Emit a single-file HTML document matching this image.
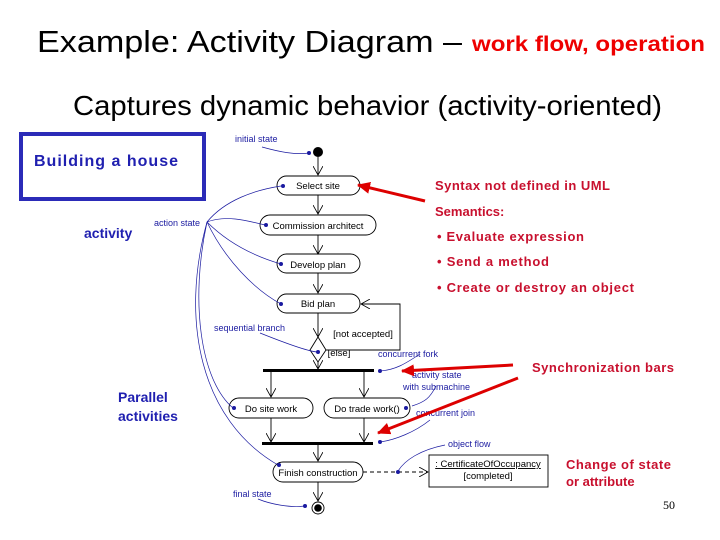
<!DOCTYPE html>
<html><head><meta charset="utf-8"><style>
html,body{margin:0;padding:0;background:#fff;}
svg{display:block;font-family:"Liberation Sans",Arial,sans-serif;}
</style></head><body>
<svg width="720" height="540" viewBox="0 0 720 540" xmlns="http://www.w3.org/2000/svg">
<defs>
<marker id="oa" markerWidth="10" markerHeight="10" refX="9" refY="5" orient="auto" markerUnits="userSpaceOnUse"><path d="M0,0 L9,5 L0,10" fill="none" stroke="#000" stroke-width="0.8"/></marker>
<marker id="ra" markerWidth="14" markerHeight="12" refX="12" refY="6" orient="auto" markerUnits="userSpaceOnUse"><path d="M0,0 L13,6 L0,12 z" fill="#d00"/></marker>
</defs>
<text x="37" y="52" font-size="31" fill="#000" textLength="425" lengthAdjust="spacingAndGlyphs">Example: Activity Diagram –</text>
<text x="472" y="51" font-size="21" font-weight="bold" fill="#e00" textLength="233" lengthAdjust="spacingAndGlyphs">work flow, operation</text>
<text x="73" y="115" font-size="28" fill="#000" textLength="589" lengthAdjust="spacingAndGlyphs">Captures dynamic behavior (activity-oriented)</text>

<rect x="21" y="134" width="183" height="65" fill="none" stroke="#2b2bb8" stroke-width="4"/>
<text x="34" y="166" font-size="16" font-weight="bold" fill="#2020b0" textLength="144">Building a house</text>
<text x="84" y="238" font-size="14" font-weight="bold" fill="#2020b0">activity</text>
<text x="118" y="402" font-size="14" font-weight="bold" fill="#2020b0">Parallel</text>
<text x="118" y="421" font-size="14" font-weight="bold" fill="#2020b0">activities</text>

<g font-size="13" font-weight="bold" fill="#c8102e">
<text x="435" y="190" textLength="175">Syntax not defined in UML</text>
<text x="435" y="216">Semantics:</text>
<text x="437" y="241" textLength="147">•  Evaluate expression</text>
<text x="437" y="266" textLength="112">•  Send a method</text>
<text x="437" y="292" textLength="197">•  Create or destroy an  object</text>
<text x="532" y="372" textLength="142">Synchronization bars</text>
<text x="566" y="469" textLength="105">Change of state</text>
<text x="566" y="486">or attribute</text>
</g>
<text x="663" y="509" font-size="12" font-family="Liberation Serif,serif">50</text>

<g stroke="#000" stroke-width="0.9" fill="none">
<line x1="318" y1="157" x2="318" y2="175" marker-end="url(#oa)"/>
<line x1="318" y1="195" x2="318" y2="214" marker-end="url(#oa)"/>
<line x1="318" y1="235" x2="318" y2="254" marker-end="url(#oa)"/>
<line x1="318" y1="273" x2="318" y2="293" marker-end="url(#oa)"/>
<line x1="318" y1="313" x2="318" y2="337" marker-end="url(#oa)"/>
<line x1="318" y1="362" x2="318" y2="369" marker-end="url(#oa)"/>
<line x1="271" y1="371" x2="271" y2="397" marker-end="url(#oa)"/>
<line x1="364" y1="371" x2="364" y2="397" marker-end="url(#oa)"/>
<line x1="271" y1="418" x2="271" y2="442" marker-end="url(#oa)"/>
<line x1="364" y1="418" x2="364" y2="442" marker-end="url(#oa)"/>
<line x1="318" y1="444" x2="318" y2="461" marker-end="url(#oa)"/>
<line x1="318" y1="482" x2="318" y2="501" marker-end="url(#oa)"/>
<polyline points="326,350 400,350 400,304 361,304" marker-end="url(#oa)"/>
<line x1="363" y1="472" x2="428" y2="472" stroke-dasharray="4,3" marker-end="url(#oa)"/>
<rect x="277" y="176" width="83" height="19" rx="9.5"/>
<rect x="260" y="215" width="116" height="20" rx="10"/>
<rect x="277" y="254" width="83" height="19" rx="9.5"/>
<rect x="277" y="294" width="83" height="19" rx="9.5"/>
<polygon points="318,337 326,350 318,362 310,350"/>
<rect x="229" y="398" width="84" height="20" rx="10"/>
<rect x="324" y="398" width="86" height="20" rx="10"/>
<rect x="273" y="462" width="90" height="20" rx="10"/>
<rect x="429" y="455" width="119" height="32"/>
<circle cx="318" cy="508" r="6"/>
</g>
<circle cx="318" cy="152" r="5" fill="#000"/>
<circle cx="318" cy="508" r="3.8" fill="#000"/>
<rect x="263" y="369" width="111" height="3" fill="#000"/>
<rect x="262" y="442" width="111" height="3" fill="#000"/>
<g font-size="9.5" fill="#000" text-anchor="middle">
<text x="318" y="189">Select site</text>
<text x="318" y="229">Commission architect</text>
<text x="318" y="268">Develop plan</text>
<text x="318" y="307">Bid plan</text>
<text x="271" y="412">Do site work</text>
<text x="367" y="412">Do trade work()</text>
<text x="318" y="476">Finish construction</text>
<text x="488" y="467" text-decoration="underline">: CertificateOfOccupancy</text>
<text x="488" y="479">[completed]</text>
<text x="363" y="337">[not accepted]</text>
<text x="339" y="356">[else]</text>
</g>
<g font-size="9" fill="#1a1aa0">
<text x="235" y="142">initial state</text>
<text x="154" y="226">action state</text>
<text x="214" y="331">sequential branch</text>
<text x="378" y="357">concurrent fork</text>
<text x="412" y="378">activity state</text>
<text x="403" y="390">with submachine</text>
<text x="416" y="416">concurrent join</text>
<text x="448" y="447">object flow</text>
<text x="233" y="497">final state</text>
</g>
<g stroke="#1a1aa0" stroke-width="0.7" fill="none">
<path d="M262,147 C280,152 295,155 309,153"/>
<path d="M207,222 C225,200 255,190 281,186"/>
<path d="M207,222 C225,215 245,220 265,225"/>
<path d="M207,222 C225,240 250,255 281,264"/>
<path d="M207,222 C225,260 255,290 281,304"/>
<path d="M207,222 C190,300 200,380 233,408"/>
<path d="M207,222 C180,320 200,420 278,465"/>
<path d="M260,333 C290,345 310,352 318,352"/>
<path d="M420,354 C405,364 395,370 380,371"/>
<path d="M436,386 C430,398 425,402 412,406"/>
<path d="M430,420 C415,432 395,440 380,442"/>
<path d="M445,445 C420,450 405,460 398,471"/>
<path d="M258,499 C270,504 290,508 305,506"/>
</g>
<g fill="#1a1aa0">
<circle cx="309" cy="153" r="2"/><circle cx="283" cy="186" r="2"/><circle cx="266" cy="225" r="2"/>
<circle cx="281" cy="264" r="2"/><circle cx="281" cy="304" r="2"/><circle cx="318" cy="352" r="2"/>
<circle cx="380" cy="371" r="2"/><circle cx="234" cy="408" r="2"/><circle cx="406" cy="408" r="2"/>
<circle cx="380" cy="442" r="2"/><circle cx="279" cy="465" r="2"/><circle cx="398" cy="472" r="2"/>
<circle cx="305" cy="506" r="2"/>
</g>
<g stroke="#d00" stroke-width="3" fill="none">
<line x1="425" y1="201" x2="358" y2="185" marker-end="url(#ra)"/>
<line x1="513" y1="365" x2="402" y2="371" marker-end="url(#ra)"/>
<line x1="518" y1="378" x2="378" y2="433" marker-end="url(#ra)"/>
</g>
</svg>
</body></html>
